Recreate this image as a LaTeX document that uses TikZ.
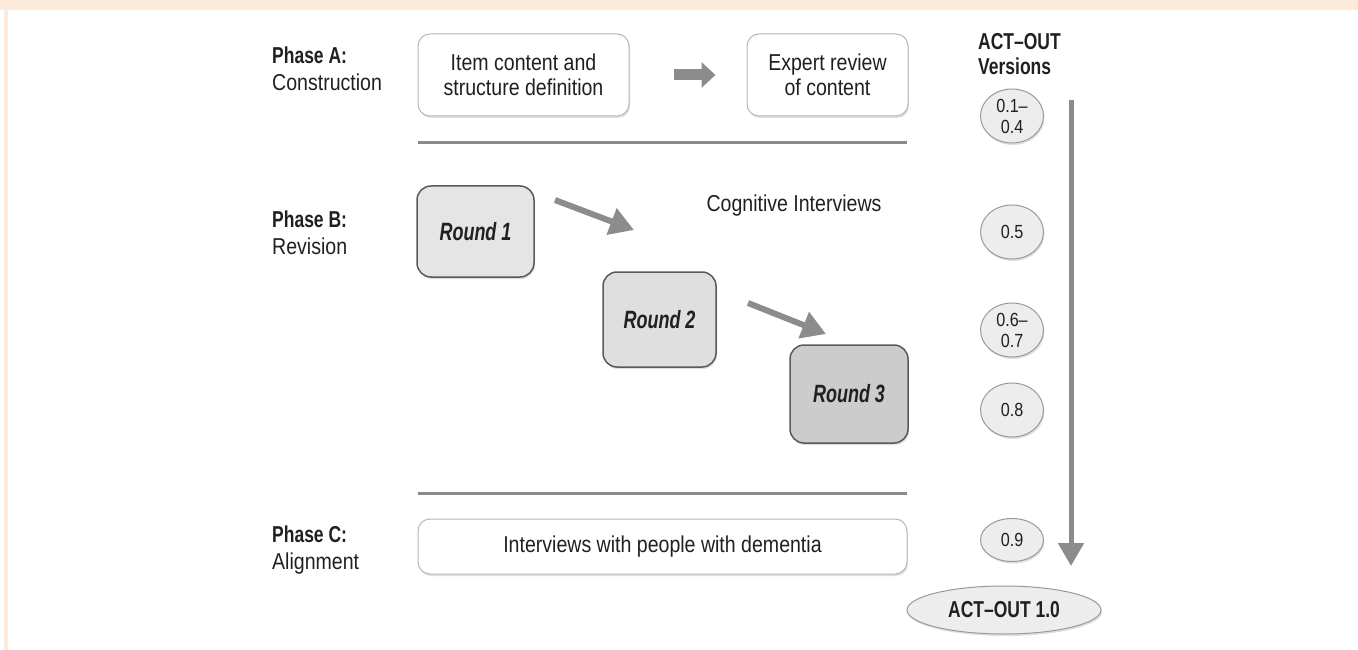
\documentclass[tikz,border=0pt]{standalone}
\usepackage{fontspec}
\setmainfont{Liberation Sans}[FakeStretch=0.85,
	BoldFeatures={FakeStretch=0.76},BoldItalicFeatures={FakeStretch=0.72}]
\usetikzlibrary{arrows.meta,shapes.geometric,shadows}
\definecolor{peach}{HTML}{FCEBDA}
\definecolor{textdark}{HTML}{231F20}
\definecolor{boxline}{HTML}{B8B8B8}
\definecolor{roundline}{HTML}{5A5A5A}
\definecolor{arrowgray}{HTML}{8C8C8C}
\definecolor{sepgray}{HTML}{8A8A8A}
\definecolor{verfill}{HTML}{EDEDED}
\definecolor{verline}{HTML}{9A9A9A}
\begin{document}
\begin{tikzpicture}[x=1pt,y=-1pt,
	every node/.style={text=textdark,inner sep=0pt},
	phase/.style={anchor=west,align=left,font=\fontsize{23}{27}\selectfont},
	softshadow/.style={drop shadow={shadow xshift=1pt,shadow yshift=-2pt,opacity=0.25}},
	whitebox/.style={draw=boxline,line width=1pt,fill=white,rounded corners=12pt,
		align=center,font=\fontsize{23}{25}\selectfont,softshadow},
	roundbox/.style={draw=roundline,line width=1.5pt,rounded corners=14pt,softshadow,
		font=\fontsize{25}{28}\selectfont\bfseries\itshape},
	version/.style={ellipse,draw=verline,line width=1pt,fill=verfill,softshadow,
		minimum width=63pt,minimum height=54pt,align=center,font=\fontsize{19}{21}\selectfont},
	flow/.style={draw=arrowgray,line width=6pt,-{Triangle[length=24pt,width=27pt]}},
	sepline/.style={draw=sepgray,line width=3pt}]
\useasboundingbox (0,0) rectangle (1358,650);
% frame
\fill[peach] (0,0) rectangle (1358,10);
\fill[peach] (4,10) rectangle (8,650);

% phase labels
\node[phase] (phA) at (272,69) {\textbf{Phase A:}\\Construction};
\node[phase] (phB) at (272,233) {\textbf{Phase B:}\\Revision};
\node[phase] (phC) at (272,550) {\textbf{Phase C:}\\Alignment};

% phase A
\node[whitebox,minimum width=211pt,minimum height=82pt] (item) at (523.5,75)
	{Item content and\\structure definition};
\node[whitebox,minimum width=161pt,minimum height=82pt] (expert) at (827.5,75)
	{Expert review\\of content};
\draw[draw=arrowgray,line width=11pt,shorten <=44pt,shorten >=31pt,
	-{Triangle[length=14pt,width=25pt]}] (item) -- (expert);
\draw[sepline] (418,143) -- (907,143);

% phase B
\node[roundbox,fill=gray!20,minimum width=117pt,minimum height=91pt] (r1) at (475.5,231.5) {Round 1};
\node[roundbox,fill=gray!25,minimum width=113pt,minimum height=95pt] (r2) at (659.5,319.5) {Round 2};
\node[roundbox,fill=gray!40,minimum width=118pt,minimum height=98pt] (r3) at (849,394) {Round 3};
\node[font=\fontsize{23}{25}\selectfont] (cog) at (794,206) {Cognitive Interviews};
\coordinate (a1s) at (555,200);
\coordinate (a1e) at (634,230);
\coordinate (a2s) at (748,303);
\coordinate (a2e) at (826,334);
\draw[flow] (a1s) -- (a1e);
\draw[flow] (a2s) -- (a2e);
\draw[sepline] (418,493) -- (907,493);

% phase C
\node[whitebox,minimum width=489pt,minimum height=55pt] (dem) at (662.5,546.5)
	{Interviews with people with dementia};

% versions
\node[anchor=west,align=left,font=\fontsize{23}{25}\selectfont\bfseries] (vhead) at (978,54)
	{ACT–OUT\\Versions};
\node[version] (v1) at (1012,116) {0.1–\\0.4};
\node[version] (v2) at (1012,232) {0.5};
\node[version] (v3) at (1012,330) {0.6–\\0.7};
\node[version] (v4) at (1012,410) {0.8};
\node[version,minimum height=43pt] (v5) at (1012,540) {0.9};
\node[version,minimum width=194pt,minimum height=48pt,
	font=\fontsize{23}{25}\selectfont\bfseries] (final) at (1004,610) {ACT–OUT 1.0};
\coordinate (vtop) at (1071,100);
\coordinate (vbot) at (1071,566);
\draw[draw=arrowgray,line width=5pt,-{Triangle[length=23pt,width=25pt]}] (vtop) -- (vbot);
\end{tikzpicture}
\end{document}
